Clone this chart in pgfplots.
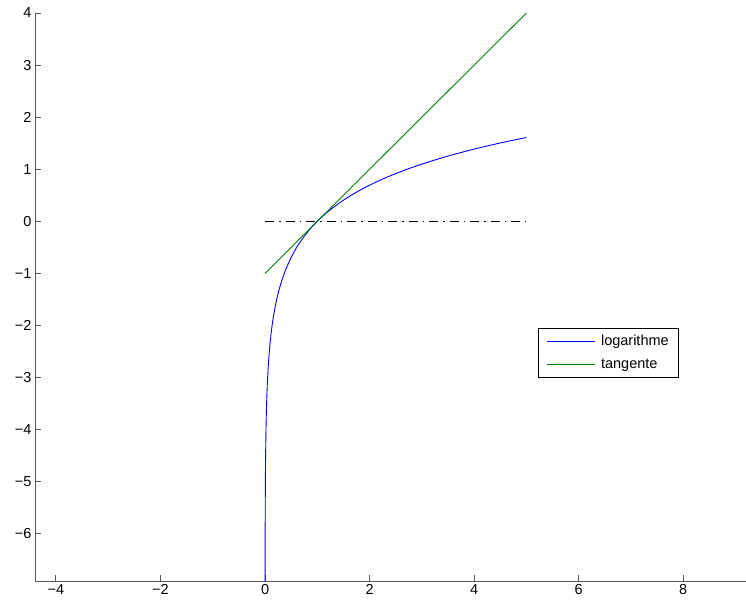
\documentclass[border=0pt]{standalone}
\usepackage{fontspec}
\setmainfont{Liberation Sans}
\usepackage{pgfplots}
\pgfplotsset{compat=1.18}
\begin{document}
\begin{tikzpicture}
\useasboundingbox (0,0) rectangle (746pt,604pt);
\begin{axis}[
  at={(35pt,23pt)}, anchor=south west,
  scale only axis, width=711pt, height=568pt,
  xmin=-4.4, xmax=9.2, ymin=-6.9078, ymax=4,
  axis x line*=bottom, axis y line*=left,
  axis line style={draw=black!65, line width=0.9pt},
  tick align=inside, major tick length=6pt,
  tick style={black!65, line width=0.9pt},
  xtick={-4,-2,0,2,4,6,8},
  xticklabels={−4,−2,0,2,4,6,8},
  ytick={-6,-5,-4,-3,-2,-1,0,1,2,3,4},
  yticklabels={−6,−5,−4,−3,−2,−1,0,1,2,3,4},
  ticklabel style={font=\fontsize{14.5}{17}\selectfont, text=black},
  clip=false,
  legend style={at={(0.707,0.4454)}, anchor=north west, draw=black, line width=0.9pt,
    fill=white, font=\fontsize{14.5}{17}\selectfont, inner xsep=8pt, inner ysep=5pt,
    row sep=8pt},
  legend cell align=left,
  legend image code/.code={\draw[#1, line width=0.9pt] plot coordinates {(0pt,0pt)(24pt,0pt)(48pt,0pt)};},
  /tikz/every even column/.append style={column sep=0pt},
]
\addplot[color=blue, line width=0.9pt, smooth] coordinates {
(0.001,-6.9078)(0.002,-6.2146)(0.003,-5.8091)(0.005,-5.2983)(0.0075,-4.8929)
(0.01,-4.6052)(0.015,-4.1997)(0.02,-3.9120)(0.03,-3.5066)(0.04,-3.2189)
(0.05,-2.9957)(0.07,-2.6593)(0.1,-2.3026)(0.13,-2.0402)(0.16,-1.8326)
(0.2,-1.6094)(0.25,-1.3863)(0.3,-1.2040)(0.35,-1.0498)(0.4,-0.9163)
(0.5,-0.6931)(0.6,-0.5108)(0.7,-0.3567)(0.8,-0.2231)(0.9,-0.1054)
(1.0,0)(1.2,0.1823)(1.4,0.3365)(1.6,0.4700)(1.8,0.5878)(2.0,0.6931)
(2.25,0.8109)(2.5,0.9163)(2.75,1.0116)(3.0,1.0986)(3.5,1.2528)
(4.0,1.3863)(4.5,1.5041)(5.0,1.6094)};
\addlegendentry{\hspace{4pt}logarithme\hspace{12pt}}
\addplot[color=green!50!black, line width=0.9pt] coordinates {(0,-1)(5,4)};
\addlegendentry{\hspace{4pt}tangente}
\addplot[black, line width=0.9pt, dash pattern=on 9pt off 5pt on 1.5pt off 5pt, forget plot] coordinates {(0,0)(5,0)};
\end{axis}
\end{tikzpicture}
\end{document}
